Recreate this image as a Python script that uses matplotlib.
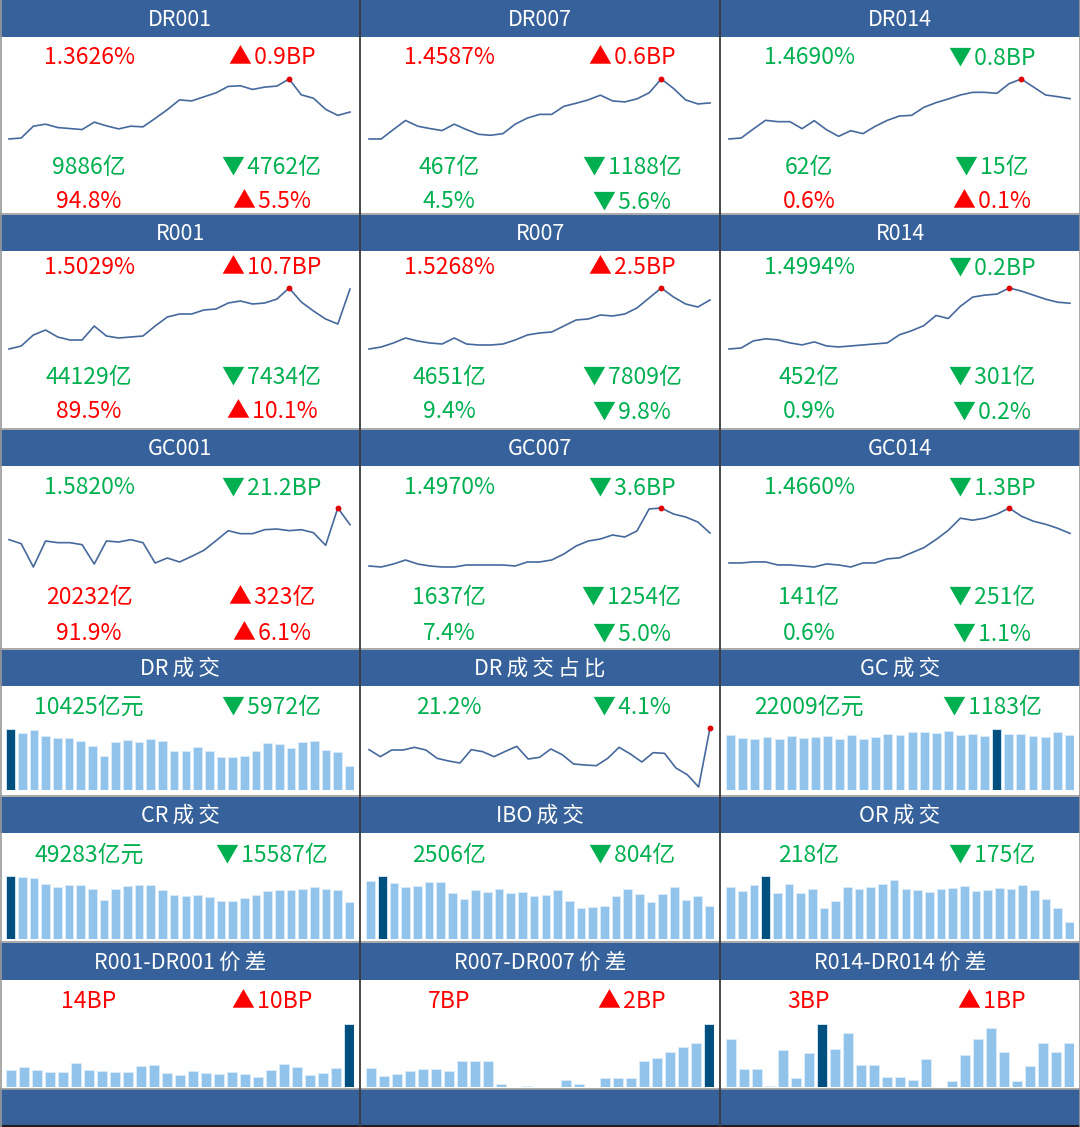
import matplotlib
matplotlib.use('Agg')
import matplotlib.pyplot as plt
from matplotlib.patches import Rectangle
import numpy as np

plt.rcParams['font.family'] = ['Noto Sans CJK SC', 'DejaVu Sans']

W, H = 1080, 1127
RED = '#FF0000'
GREEN = '#00B050'
HEAD = '#37619A'
LINEC = '#45699C'
LIGHT = '#92C3EA'
DARK = '#00507F'
BORDER = '#3C3C3C'

# ---------------- data ----------------
titles = [["DR001", "DR007", "DR014"],
          ["R001", "R007", "R014"],
          ["GC001", "GC007", "GC014"],
          ["DR成交", "DR成交占比", "GC成交"],
          ["CR成交", "IBO成交", "OR成交"],
          ["R001-DR001价差", "R007-DR007价差", "R014-DR014价差"]]

# rate panels: (value, sign, change), (volume, sign, change), (share, sign, change)
rate_values = ["1.3626%", "1.4587%", "1.4690%",
               "1.5029%", "1.5268%", "1.4994%",
               "1.5820%", "1.4970%", "1.4660%"]
rate_signs = [1, 1, -1, 1, 1, -1, -1, -1, -1]
rate_changes = ["0.9BP", "0.6BP", "0.8BP", "10.7BP", "2.5BP", "0.2BP", "21.2BP", "3.6BP", "1.3BP"]
vol_values = ["9886亿", "467亿", "62亿", "44129亿", "4651亿", "452亿", "20232亿", "1637亿", "141亿"]
vol_signs = [-1, -1, -1, -1, -1, -1, 1, -1, -1]
vol_changes = ["4762亿", "1188亿", "15亿", "7434亿", "7809亿", "301亿", "323亿", "1254亿", "251亿"]
share_values = ["94.8%", "4.5%", "0.6%", "89.5%", "9.4%", "0.9%", "91.9%", "7.4%", "0.6%"]
share_signs = [1, -1, 1, 1, -1, -1, 1, -1, -1]
share_changes = ["5.5%", "5.6%", "0.1%", "10.1%", "9.8%", "0.2%", "6.1%", "5.0%", "1.1%"]

# rate trend lines (relative levels)
dr001 = [2, 5, 40, 46, 36, 33, 30, 52, 41, 32, 40, 38, 63, 89, 118, 115, 127, 139, 158, 160, 149, 156, 159, 180, 133, 123, 90, 72, 82]
dr007 = [2, 2, 30, 57, 40, 33, 27, 46, 30, 16, 13, 18, 46, 64, 75, 75, 99, 108, 118, 132, 115, 112, 121, 139, 180, 152, 118, 106, 109]
dr014 = [2, 5, 32, 58, 54, 54, 33, 57, 30, 10, 27, 18, 40, 58, 71, 73, 97, 111, 122, 134, 142, 142, 139, 168, 182, 158, 134, 129, 123]
r001 = [1, 4, 15, 20, 13, 10, 10, 24, 14, 12, 13, 14, 24, 33, 36, 36, 40, 41, 47, 49, 46, 47, 51, 62, 48, 39, 31, 26, 61]
r007 = [1, 3, 7, 12, 9, 7, 6, 12, 6, 5, 5, 6, 10, 15, 17, 18, 24, 30, 31, 35, 34, 36, 42, 52, 62, 53, 46, 43, 50]
r014 = [1, 2, 9, 11, 10, 7, 5, 8, 4, 3, 4, 5, 6, 7, 15, 19, 24, 34, 31, 43, 52, 54, 55, 61, 58, 54, 50, 47, 46]
gc001 = [90, 78, 8, 86, 81, 81, 75, 17, 86, 83, 90, 81, 20, 35, 23, 40, 58, 87, 117, 108, 108, 120, 122, 117, 120, 111, 73, 185, 135]
gc007 = [5, 4, 7, 11, 7, 5, 4, 4, 6, 6, 6, 6, 5, 9, 9, 11, 17, 25, 30, 32, 36, 34, 40, 62, 63, 57, 54, 49, 38]
gc014 = [8, 8, 9, 9, 6, 6, 5, 4, 7, 6, 4, 8, 8, 12, 13, 18, 23, 31, 40, 52, 50, 52, 56, 62, 54, 49, 46, 42, 37]

# turnover panels (亿元)
dr_turnover = [26640, 24760, 26210, 23460, 22590, 22590, 21290, 19110, 14770, 21140, 21860, 21140, 22300, 21580, 17230,
               17230, 18680, 17230, 14340, 14340, 14770, 17230, 20710, 20270, 18250, 20850, 21290, 17520, 16397, 10425]
dr_share = [120, 99, 119, 119, 127, 119, 94, 86, 80, 120, 114, 99, 115, 130, 92, 97, 122, 105, 77, 74, 72, 94, 127, 107,
            83, 111, 109, 65, 45, 8, 185]
gc_turnover = [22010, 20810, 20540, 21210, 20540, 21610, 20810, 21210, 21610, 20540, 22010, 20540, 21210, 22410, 22010,
               23210, 23210, 22810, 23610, 22010, 22410, 21610, 24540, 22410, 22410, 21610, 21210, 23192, 22009]
cr_turnover = [83170, 82260, 80910, 72770, 68250, 70960, 70960, 65540, 51980, 65540, 69610, 70960, 70960, 64180, 57860,
               56950, 57860, 55600, 50620, 50620, 54240, 57860, 63280, 64180, 64180, 65540, 68700, 65540, 64870, 49283]
ibo_turnover = [4485, 4854, 4326, 3983, 4115, 4405, 4405, 3535, 3086, 3746, 3614, 3825, 3535, 3614, 3324, 3377, 3746, 2955,
                2374, 2453, 2506, 3324, 3825, 3456, 2875, 3456, 3983, 3034, 3310, 2506]
or_turnover = [645, 594, 680, 787, 573, 688, 573, 620, 385, 479, 645, 620, 645, 688, 740, 620, 607, 586, 620, 633, 658,
               594, 607, 633, 620, 680, 607, 500, 393, 218]
turn_values = ["10425亿元", "21.2%", "22009亿元", "49283亿元", "2506亿", "218亿"]
turn_signs = [-1, -1, -1, -1, -1, -1]
turn_changes = ["5972亿", "4.1%", "1183亿", "15587亿", "804亿", "175亿"]

# spreads (BP)
spread_001 = [3.8, 4.4, 3.8, 3.3, 3.3, 5.4, 3.8, 3.6, 3.3, 3.3, 4.6, 4.9, 3.1, 2.7, 3.6, 3.1, 2.9, 3.3, 2.9, 2.3, 3.8,
              5.2, 4.4, 2.7, 3.1, 4.2, 14.0]
spread_007 = [1.9, 1.1, 1.3, 1.6, 1.8, 1.8, 1.6, 2.6, 2.6, 2.6, 0.3, 0.0, 0.1, 0.0, 0.0, 0.7, 0.3, 0.0, 0.9, 0.9, 0.9,
              2.6, 2.9, 3.4, 3.9, 4.3, 6.2]
spread_014 = [3.3, 1.2, 1.2, 0.05, 2.5, 0.6, 2.3, 4.3, 2.6, 3.7, 1.5, 1.5, 0.7, 0.7, 0.5, 1.9, 0.0, 0.4, 2.2, 3.3, 4.0,
              2.4, 0.4, 1.4, 3.0, 2.4, 3.0]
spread_values = ["14BP", "7BP", "3BP"]
spread_signs = [1, 1, 1]
spread_changes = ["10BP", "2BP", "1BP"]

# ---------------- layout ----------------
rows = [(0, 37, 213), (215, 251, 428), (430, 466, 648), (650, 686, 795), (797, 833, 941), (943, 980, 1088)]
# per rate-row offsets: text rows and line band (relative to row top)
rate_row_geo = [dict(t=(58, 168, 202), band=(79, 139)),
                dict(t=(53, 163, 197), band=(73, 134)),
                dict(t=(58, 168, 204), band=(78, 137))]
cols = [0, 360, 720]
CW = 360

fig = plt.figure(figsize=(W / 100, H / 100), dpi=100)
bg = fig.add_axes([0, 0, 1, 1])
bg.set_xlim(0, W)
bg.set_ylim(H, 0)
bg.axis('off')


def px_axes(x0, y0, x1, y1):
    ax = fig.add_axes([x0 / W, 1 - y1 / H, (x1 - x0) / W, (y1 - y0) / H])
    ax.axis('off')
    return ax


def col_of(sign):
    return RED if sign > 0 else GREEN


def arrow(sign):
    return '▲' if sign > 0 else '▼'


def spaced(title):
    # the reference header font leaves a small gap around CJK characters
    out = ''
    for ch in title:
        if ord(ch) > 0x2E80:
            out += '\u2009' + ch
        else:
            out += ch
    return out


FS = 16.5
for r, (top, hb, bot) in enumerate(rows):
    bg.add_patch(Rectangle((0, top), W, hb - top, color=HEAD, lw=0, zorder=1))
    bg.plot([0, W], [bot + 0.5, bot + 0.5], color='#9A9A9A', lw=1.2, zorder=3)
    for c in range(3):
        bg.text(cols[c] + CW / 2, (top + hb) / 2 + 1, spaced(titles[r][c]), color='white', fontsize=15.5,
                ha='center', va='center', zorder=4)

# bottom bar
bg.add_patch(Rectangle((0, 1089), W, 36, color=HEAD, lw=0, zorder=1))
bg.plot([0, W], [1126, 1126], color='#202020', lw=1.5, zorder=3)
# column separators and borders
for x in [360, 720]:
    bg.plot([x, x], [0, H], color=BORDER, lw=1.3, zorder=5)
bg.plot([0.5, 0.5], [0, H], color='#9A9A9A', lw=1.2, zorder=5)
bg.plot([W - 0.5, W - 0.5], [0, H], color='#9A9A9A', lw=1.2, zorder=5)


def pair_text(x0, y, left, sign, change, left_sign=None):
    cl = col_of(sign if left_sign is None else left_sign)
    bg.text(x0 + 89, y, left, color=cl, fontsize=FS, ha='center', va='center', zorder=4)
    bg.text(x0 + 272, y, arrow(sign) + '\u200a' + change, color=col_of(sign), fontsize=FS,
            ha='center', va='center', zorder=4)


def draw_line(x0, top, data, y_hi=79, y_lo=139):
    ax = px_axes(x0 + 9, top + y_hi, x0 + 350, top + y_lo)
    xs = np.arange(len(data))
    ax.plot(xs, data, color=LINEC, lw=1.2, clip_on=False, solid_joinstyle='round')
    i = int(np.argmax(data))
    ax.plot([xs[i]], [data[i]], 'o', color='#E00000', ms=3.2, clip_on=False)
    ax.set_xlim(0, len(data) - 1)
    ax.set_ylim(min(data), max(data))


def draw_bars(x0, top, data, y_hi, y_lo, width=0.74):
    ax = px_axes(x0 + 6, top + y_hi, x0 + 354, top + y_lo)
    xs = np.arange(len(data))
    i = int(np.argmax(data))
    colors = [DARK if k == i else LIGHT for k in xs]
    ax.bar(xs, data, width=width, color=colors, edgecolor='#DCEBF8', linewidth=0.6)
    ax.set_xlim(-width / 2 - 0.02, len(data) - 1 + width / 2 + 0.02)
    ax.set_ylim(0, max(data))


rate_series = [dr001, dr007, dr014, r001, r007, r014, gc001, gc007, gc014]
for k in range(9):
    r, c = divmod(k, 3)
    top = rows[r][0]
    x0 = cols[c]
    g = rate_row_geo[r]
    pair_text(x0, top + g['t'][0], rate_values[k], rate_signs[k], rate_changes[k])
    pair_text(x0, top + g['t'][1], vol_values[k], vol_signs[k], vol_changes[k])
    pair_text(x0, top + g['t'][2], share_values[k], share_signs[k], share_changes[k])
    draw_line(x0, top, rate_series[k], *g['band'])

# turnover rows
turn_series = [dr_turnover, dr_share, gc_turnover, cr_turnover, ibo_turnover, or_turnover]
for k in range(6):
    r = 3 + k // 3
    c = k % 3
    top = rows[r][0]
    x0 = cols[c]
    pair_text(x0, top + 57 if r == 3 else top + 58, turn_values[k], turn_signs[k], turn_changes[k])
    if k == 1:
        draw_line(x0, top, turn_series[k], 78, 137)
    else:
        yl = 140 if r == 3 else 142
        draw_bars(x0, top, turn_series[k], 79, yl)

spread_series = [spread_001, spread_007, spread_014]
for c in range(3):
    top = rows[5][0]
    x0 = cols[c]
    pair_text(x0, top + 58, spread_values[c], spread_signs[c], spread_changes[c])
    draw_bars(x0, top, spread_series[c], 81, 144, width=0.72)

fig.savefig('out.png', dpi=100)
